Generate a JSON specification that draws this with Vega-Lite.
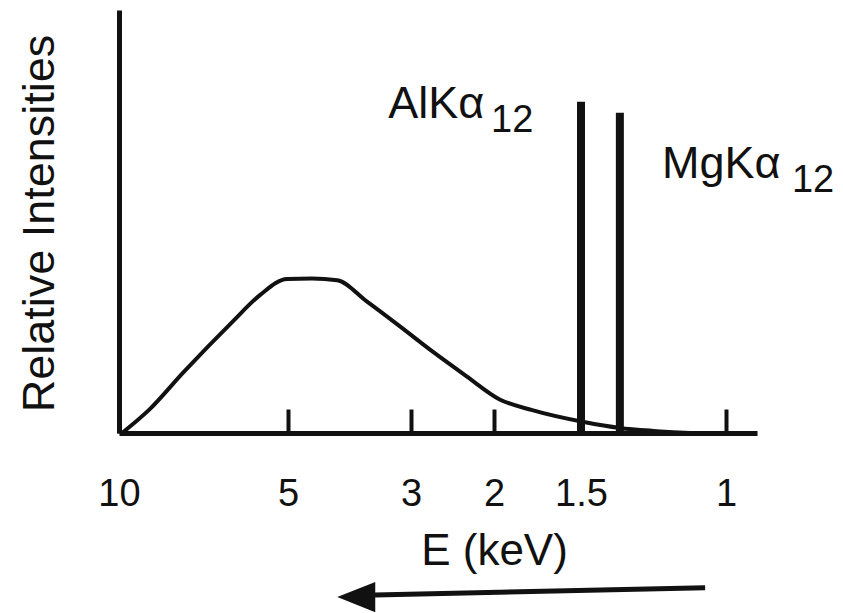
{
  "$schema": "https://vega.github.io/schema/vega-lite/v6.json",
  "autosize": "none",
  "width": 638,
  "height": 423,
  "padding": {"left": 119, "top": 10, "right": 86, "bottom": 180},
  "background": "white",
  "config": {
    "view": {"stroke": null},
    "font": "Liberation Sans"
  },
  "datasets": {
    "curve": [
      {"E": 9.91, "I": 0},
      {"E": 9.08, "I": 5.7},
      {"E": 8.11, "I": 14.2},
      {"E": 6.63, "I": 26.4},
      {"E": 5.83, "I": 32.6},
      {"E": 5.03, "I": 36.4},
      {"E": 4.61, "I": 36.5},
      {"E": 4.2, "I": 36.1},
      {"E": 3.72, "I": 31.1},
      {"E": 3.18, "I": 25.2},
      {"E": 2.73, "I": 19.1},
      {"E": 2.33, "I": 13.4},
      {"E": 1.97, "I": 8.0},
      {"E": 1.78, "I": 5.4},
      {"E": 1.49, "I": 2.6},
      {"E": 1.366, "I": 1.2},
      {"E": 1.25, "I": 0.5},
      {"E": 1.124, "I": 0}
    ],
    "lines": [
      {"line": "AlKα12", "E": 1.5, "I": 78.3},
      {"line": "MgKα12", "E": 1.366, "I": 75.7}
    ],
    "labels": [
      {"label": "AlKα", "E": 3.37, "I": 74.5},
      {"label": "MgKα", "E": 1.221, "I": 60.3}
    ],
    "subs": [
      {"label": "12", "E": 2.036, "I": 71.2},
      {"label": "12", "E": 0.766, "I": 57.0}
    ],
    "arrow": [
      {"E": 3.585, "I": -38.3},
      {"E": 1.072, "I": -36.6}
    ],
    "head": [
      {"E": 3.89, "I": -38.8}
    ]
  },
  "encoding": {
    "x": {
      "field": "E",
      "type": "quantitative",
      "scale": {
        "domain": [10, 5, 3, 2, 1.5, 1, 0.89],
        "range": [0, 169, 292, 375, 462, 607, 638],
        "nice": false,
        "zero": false
      },
      "axis": {
        "values": [10, 5, 3, 2, 1.5, 1],
        "labelExpr": "'' + datum.value",
        "grid": false,
        "domainColor": "#111",
        "domainWidth": 5,
        "tickColor": "#111",
        "tickWidth": 4,
        "tickSize": -24,
        "labelFontSize": 38,
        "labelColor": "#111",
        "labelFlush": false,
        "labelOverlap": false,
        "labelBaseline": "alphabetic",
        "labelPadding": 96,
        "title": "E (keV)",
        "titleFontSize": 44,
        "titleFontWeight": "normal",
        "titleColor": "#111",
        "titleX": 375,
        "titleY": 131,
        "titleAlign": "center",
        "titleBaseline": "alphabetic"
      }
    },
    "y": {
      "field": "I",
      "type": "quantitative",
      "scale": {"domain": [0, 100], "nice": false, "zero": true},
      "axis": {
        "grid": false,
        "ticks": false,
        "labels": false,
        "domainColor": "#111",
        "domainWidth": 5,
        "title": "Relative Intensities",
        "titleFontSize": 45,
        "titleFontWeight": "normal",
        "titleColor": "#111",
        "titleAngle": -90,
        "titleX": -66,
        "titleY": 213,
        "titleAlign": "center",
        "titleBaseline": "alphabetic"
      }
    }
  },
  "layer": [
    {
      "data": {"name": "curve"},
      "mark": {"type": "line", "color": "#111", "strokeWidth": 4, "interpolate": "monotone"}
    },
    {
      "data": {"name": "lines"},
      "mark": {"type": "rule", "color": "#111", "strokeWidth": 8},
      "encoding": {"y2": {"datum": 0}}
    },
    {
      "data": {"name": "labels"},
      "mark": {"type": "text", "align": "left", "baseline": "alphabetic", "fontSize": 45, "color": "#111"},
      "encoding": {"text": {"field": "label"}}
    },
    {
      "data": {"name": "subs"},
      "mark": {"type": "text", "align": "left", "baseline": "alphabetic", "fontSize": 38, "color": "#111"},
      "encoding": {"text": {"field": "label"}}
    },
    {
      "data": {"name": "arrow"},
      "mark": {"type": "line", "color": "#111", "strokeWidth": 5}
    },
    {
      "data": {"name": "head"},
      "mark": {"type": "point", "shape": "M -1 0 L 1 -0.79 L 1 0.79 Z", "size": 1444, "filled": true, "color": "#111", "opacity": 1}
    }
  ]
}
